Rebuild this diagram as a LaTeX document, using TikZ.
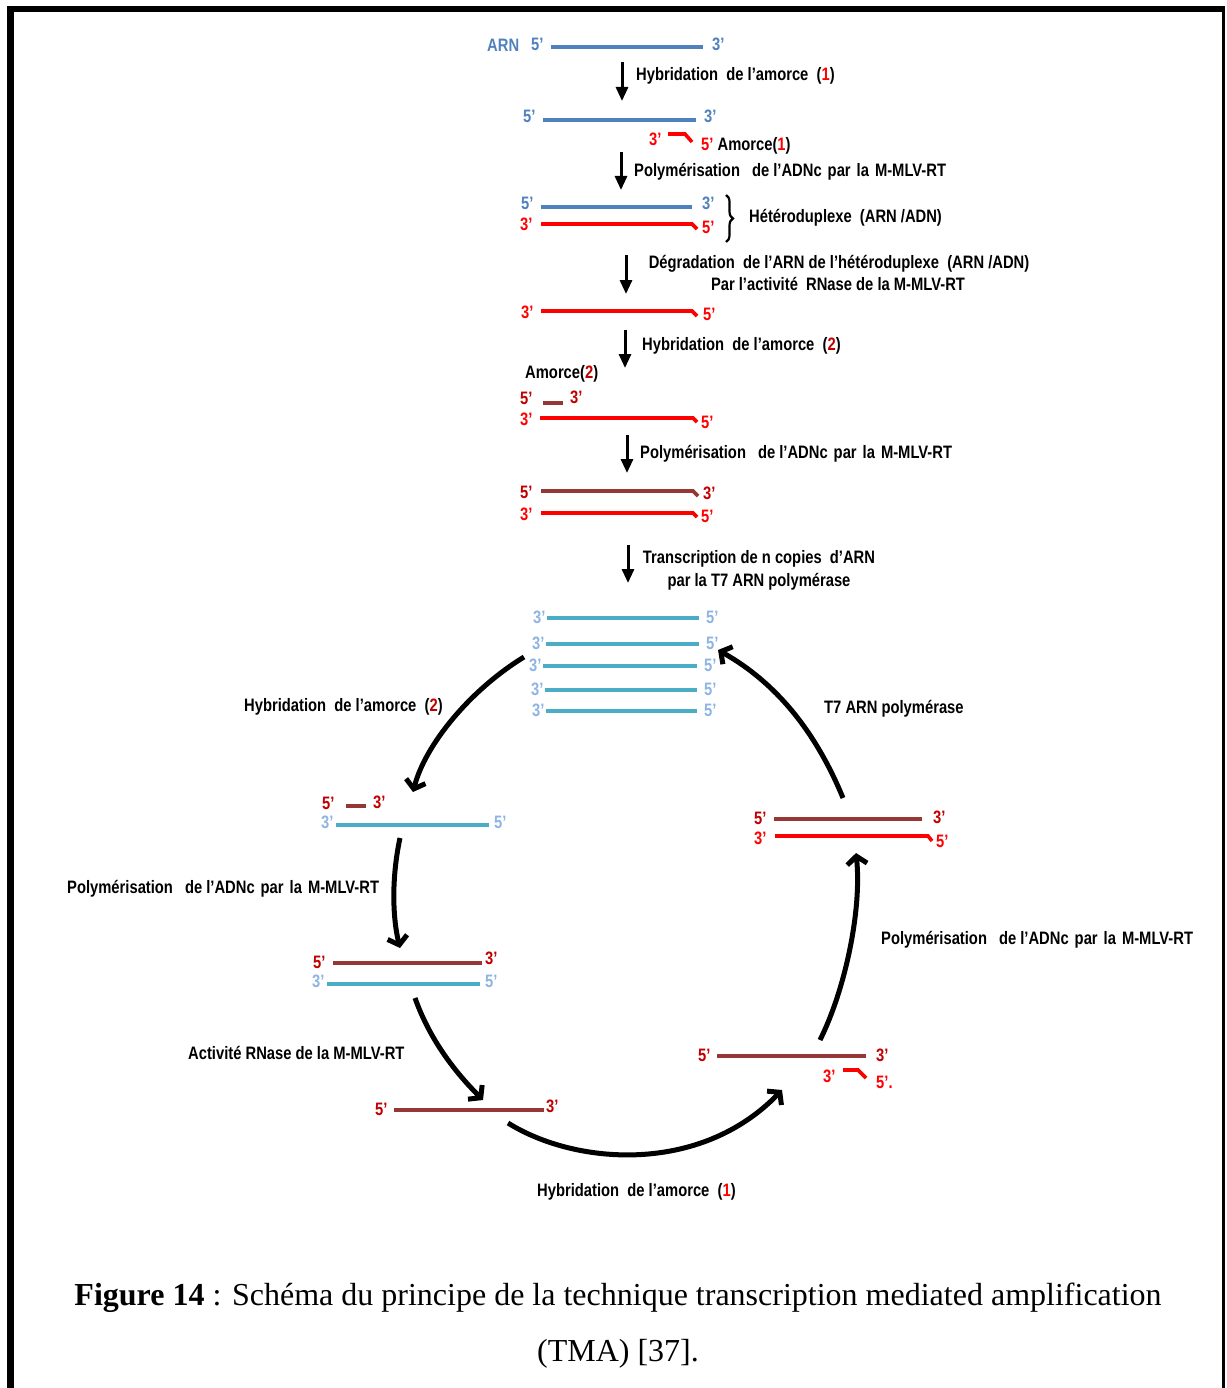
\documentclass[tikz,border=0pt]{standalone}
\usepackage{fontspec}
\usetikzlibrary{arrows.meta,decorations.pathreplacing}
\newfontfamily\labfont[FakeStretch=0.82]{Liberation Sans}
\newfontfamily\capfont{Liberation Serif}
\definecolor{mblue}{HTML}{4F81BD}
\definecolor{mred}{HTML}{FF0000}
\definecolor{mbrown}{HTML}{953735}
\definecolor{mdred}{HTML}{C00000}
\definecolor{mcyan}{HTML}{4BACC6}
\definecolor{mlblue}{HTML}{8EB4E3}
\tikzset{
  lab/.style={font=\labfont\bfseries\fontsize{18}{21}\selectfont, inner sep=0pt, anchor=base west},
  labc/.style={lab, anchor=base},
  captext/.style={font=\capfont\fontsize{32}{38}\selectfont, inner sep=0pt, anchor=base},
  strand/.style={line width=3.6pt},
  varrow/.style={line width=3pt, -{Triangle[length=14pt,width=12pt]}},
  carrow/.style={line width=5pt, -{Straight Barb[length=8pt,width=20pt]}},
}
\newcommand{\polytext}{Polymérisation\hspace{12pt}de l’ADNc\hspace{6pt}par\hspace{6pt}la\hspace{6pt}M-MLV-RT}
\begin{document}
\begin{tikzpicture}[x=1pt,y=-1pt]
\useasboundingbox (0,0) rectangle (1226,1388);
% frame
\draw[line width=6.7pt] (10.7,6) -- (10.7,1388);
\draw[line width=6pt] (7,9) -- (1225,9);
\draw[line width=3pt] (1223.5,6) -- (1223.5,1388);

% ---------- linear part ----------
\node[lab,text=mblue] (arn) at (487,52) {ARN};
\node[lab,text=mblue] (t1a) at (531,51) {5’};
\draw[strand,mblue] (551,47) -- (703,47);
\node[lab,text=mblue] (t1b) at (712,51) {3’};

\coordinate (a1s) at (622,62); \coordinate (a1e) at (622,101);
\draw[varrow] (a1s) -- (a1e);
\node[lab] (l1) at (636,81) {Hybridation\ \ de l’amorce\ \ (\textcolor{mred}{1})};

\node[lab,text=mblue] (t2a) at (523,123) {5’};
\draw[strand,mblue] (543,120) -- (696,120);
\node[lab,text=mblue] (t2b) at (704,123) {3’};
\node[lab,text=mred] (p1a) at (649,146) {3’};
\draw[strand,mred] (668,134) -- (685,134) -- (692,142);
\node[lab] (p1b) at (701,151) {\textcolor{mred}{5’} Amorce(\textcolor{mred}{1})};

\coordinate (a2s) at (621,152); \coordinate (a2e) at (621,190);
\draw[varrow] (a2s) -- (a2e);
\node[lab] (l2) at (634,177) {\polytext};

\node[lab,text=mblue] (t3a) at (521,210) {5’};
\draw[strand,mblue] (541,207) -- (692,207);
\node[lab,text=mblue] (t3b) at (702,210) {3’};
\node[lab,text=mred] (t3c) at (520,231) {3’};
\draw[strand,mred] (541,224) -- (692,224) -- (697,229);
\node[lab,text=mred] (t3d) at (702,234) {5’};
\draw[line width=2.2pt, decorate, decoration={brace, amplitude=7pt}] (726,195) -- (726,242);
\node[lab] (l3) at (749,223) {Hétéroduplexe\ \ (ARN /ADN)};

\coordinate (a3s) at (626,255); \coordinate (a3e) at (626,294);
\draw[varrow] (a3s) -- (a3e);
\node[labc] (l4a) at (839,268) {Dégradation\ \ de l’ARN de l’hétéroduplexe\ \ (ARN /ADN)};
\node[labc] (l4b) at (838,290) {Par l’activité\ \ RNase de la M-MLV-RT};

\node[lab,text=mred] (t4a) at (521,318) {3’};
\draw[strand,mred] (541,311) -- (692,311) -- (697,316);
\node[lab,text=mred] (t4b) at (703,320) {5’};

\coordinate (a4s) at (625,330); \coordinate (a4e) at (625,368);
\draw[varrow] (a4s) -- (a4e);
\node[lab] (l5) at (642,350) {Hybridation\ \ de l’amorce\ \ (\textcolor{mdred}{2})};

\node[lab] (am2) at (525,378) {Amorce(\textcolor{mdred}{2})};
\node[lab,text=mdred] (t5a) at (520,404) {5’};
\draw[strand,mbrown] (543,403) -- (563,403);
\node[lab,text=mdred] (t5b) at (570,403) {3’};
\node[lab,text=mred] (t5c) at (520,425) {3’};
\draw[strand,mred] (540,418) -- (693,418) -- (697,422);
\node[lab,text=mred] (t5d) at (701,428) {5’};

\coordinate (a5s) at (627,435); \coordinate (a5e) at (627,473);
\draw[varrow] (a5s) -- (a5e);
\node[lab] (l6) at (640,458) {\polytext};

\node[lab,text=mdred] (t6a) at (520,498) {5’};
\draw[strand,mbrown] (541,491) -- (693,491) -- (698,496);
\node[lab,text=mdred] (t6b) at (703,499) {3’};
\node[lab,text=mred] (t6c) at (520,520) {3’};
\draw[strand,mred] (541,513) -- (693,513) -- (697,517);
\node[lab,text=mred] (t6d) at (701,522) {5’};

\coordinate (a6s) at (628,545); \coordinate (a6e) at (628,583);
\draw[varrow] (a6s) -- (a6e);
\node[labc] (l7a) at (759,563) {Transcription de n copies\ \ d’ARN};
\node[labc] (l7b) at (759,586) {par la T7 ARN polymérase};

% stack of RNA copies
\foreach \yy/\xa/\xb [count=\i] in {618/547/699, 644/546/699, 666/543/697, 690/545/697, 711/546/697}{
  \node[lab,text=mlblue] (s\i a) at (\xa-14,\yy+5) {3’};
  \draw[strand,mcyan] (\xa,\yy) -- (\xb,\yy);
  \node[lab,text=mlblue] (s\i b) at (\xb+7,\yy+5) {5’};
}

% ---------- cycle ----------
\coordinate (cAs) at (524,657); \coordinate (cAe) at (413,792);
\draw[carrow] (cAs) .. controls (470,690) and (425,745) .. (cAe);
\node[lab] (c1) at (244,711) {Hybridation\ \ de l’amorce\ \ (\textcolor{mdred}{2})};

\node[lab,text=mdred] (L1a) at (322,809) {5’};
\draw[strand,mbrown] (346,806) -- (366,806);
\node[lab,text=mdred] (L1b) at (373,808) {3’};
\node[lab,text=mlblue] (L1c) at (321,828) {3’};
\draw[strand,mcyan] (336,825) -- (489,825);
\node[lab,text=mlblue] (L1d) at (494,828) {5’};

\coordinate (cBs) at (400,838); \coordinate (cBe) at (400,948);
\draw[carrow] (cBs) .. controls (392,875) and (392,915) .. (cBe);
\node[lab] (c2) at (67,893) {\polytext};

\node[lab,text=mdred] (L2a) at (313,968) {5’};
\draw[strand,mbrown] (333,963) -- (482,963);
\node[lab,text=mdred] (L2b) at (485,964) {3’};
\node[lab,text=mlblue] (L2c) at (312,987) {3’};
\draw[strand,mcyan] (327,984) -- (480,984);
\node[lab,text=mlblue] (L2d) at (485,987) {5’};

\coordinate (cCs) at (415,998); \coordinate (cCe) at (483,1100);
\draw[carrow] (cCs) .. controls (430,1040) and (455,1072) .. (cCe);
\node[lab] (c3) at (188,1059) {Activité RNase de la M-MLV-RT};

\node[lab,text=mdred] (L3a) at (375,1115) {5’};
\draw[strand,mbrown] (394,1110) -- (544,1110);
\node[lab,text=mdred] (L3b) at (546,1112) {3’};

\coordinate (cDs) at (508,1123); \coordinate (cDe) at (782,1090);
\draw[carrow] (cDs) .. controls (575,1165) and (700,1175) .. (cDe);
\node[lab] (c4) at (537,1196) {Hybridation\ \ de l’amorce\ \ (\textcolor{mred}{1})};

\node[lab,text=mdred] (R3a) at (698,1061) {5’};
\draw[strand,mbrown] (717,1056) -- (866,1056);
\node[lab,text=mdred] (R3b) at (876,1061) {3’};
\node[lab,text=mred] (R3c) at (823,1082) {3’};
\draw[strand,mred] (843,1070) -- (858,1070) -- (866,1078);
\node[lab,text=mred] (R3d) at (876,1088) {5’.};

\coordinate (cEs) at (820,1040); \coordinate (cEe) at (856,853);
\draw[carrow] (cEs) .. controls (845,990) and (862,910) .. (cEe);
\node[lab] (c5) at (881,944) {\polytext};

\node[lab,text=mdred] (R1a) at (754,824) {5’};
\draw[strand,mbrown] (774,819) -- (922,819);
\node[lab,text=mdred] (R1b) at (933,823) {3’};
\node[lab,text=mred] (R1c) at (754,844) {3’};
\draw[strand,mred] (775,836) -- (928,836) -- (932,841);
\node[lab,text=mred] (R1d) at (936,847) {5’};

\coordinate (cFs) at (843,798); \coordinate (cFe) at (718,650);
\draw[carrow] (cFs) .. controls (815,730) and (775,682) .. (cFe);
\node[lab] (c6) at (824,713) {T7 ARN polymérase};

% ---------- caption ----------
\node[captext] (cap1) at (618,1305) {\textbf{Figure 14} : Schéma du principe de la technique transcription mediated amplification};
\node[captext] (cap2) at (618,1361) {(TMA) [37].};
\end{tikzpicture}
\end{document}
